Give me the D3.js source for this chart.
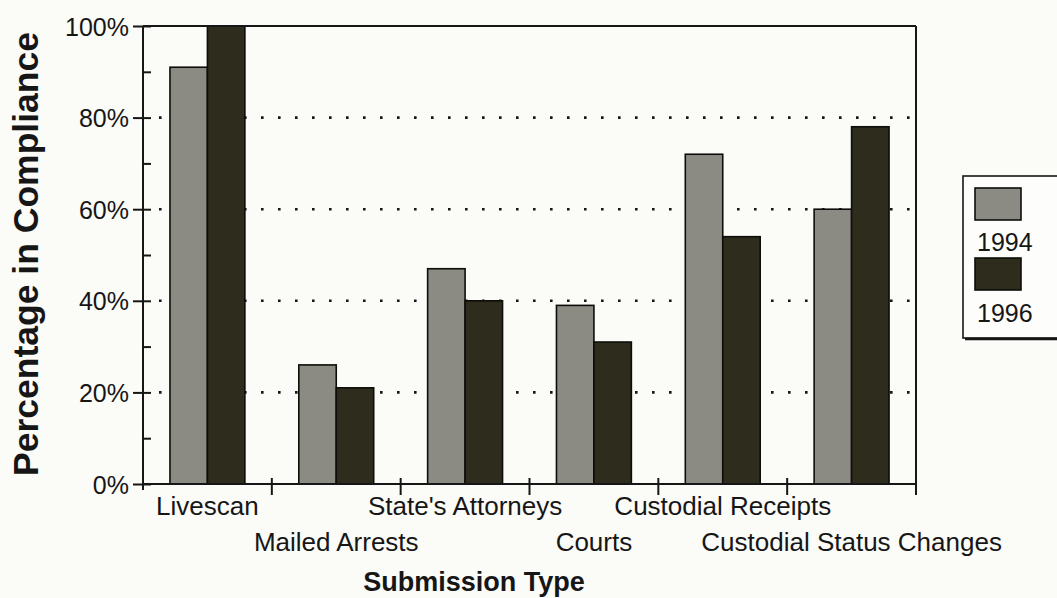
<!DOCTYPE html>
<html>
<head>
<meta charset="utf-8">
<script src="https://cdn.jsdelivr.net/npm/d3@7"></script>
<style>
  html, body { margin: 0; padding: 0; background: #fbfbf8; }
  svg { display: block; font-family: Arial, "Liberation Sans", sans-serif; }
</style>
</head>
<body>
<svg id="chart" width="1057" height="598"></svg>
<script>
// compliance by submission type, 1994 vs 1996
const CATEGORIES = ["Livescan", "Mailed Arrests", "State's Attorneys", "Courts",
                    "Custodial Receipts", "Custodial Status Changes"];
const YEARS = ["1994", "1996"];
const V1994 = [91, 26, 47, 39, 72, 60];
const V1996 = [100, 21, 40, 31, 54, 78];
const Y_MAJOR = [0, 20, 40, 60, 80, 100];
const Y_MINOR = [10, 30, 50, 70, 90];

const COLOR = {"1994": "#8b8a83", "1996": "#2e2c1d"};
const INK = "#161616";

const svg = d3.select("#chart");
const L = 143, R = 916, T = 26, B = 484;

const x = d3.scaleBand().domain(CATEGORIES).range([L, R]);
const xi = d3.scaleBand().domain(YEARS).range([0, x.bandwidth()]).paddingOuter(0.72);
const y = d3.scaleLinear().domain([0, 100]).range([B, T]);

const rows = CATEGORIES.map((c, i) => ({cat: c, "1994": V1994[i], "1996": V1996[i]}));

function label(g, txt, tx, ty, size, anchor, weight) {
  return g.append("text")
    .attr("x", tx).attr("y", ty)
    .attr("text-anchor", anchor).attr("font-size", size)
    .attr("font-weight", weight || "normal").attr("fill", INK).text(txt);
}

// dotted gridlines (under the bars)
svg.append("g").selectAll("line")
  .data(Y_MAJOR.filter(d => d > 0 && d < 100))
  .join("line")
  .attr("x1", L + 16).attr("x2", R)
  .attr("y1", d => y(d)).attr("y2", d => y(d))
  .attr("stroke", INK).attr("stroke-width", 2.6)
  .attr("stroke-dasharray", "2.6,14.4");

// bars
svg.append("g").selectAll("g")
  .data(rows).join("g")
  .attr("transform", d => `translate(${x(d.cat)},0)`)
  .selectAll("rect")
  .data(d => YEARS.map(k => ({k, v: d[k]})))
  .join("rect")
  .attr("x", d => xi(d.k)).attr("width", xi.bandwidth())
  .attr("y", d => y(d.v)).attr("height", d => y(0) - y(d.v))
  .attr("fill", d => COLOR[d.k]).attr("stroke", "#0d0d0a").attr("stroke-width", 1.6);

// frame: top and right
svg.append("line").attr("x1", L).attr("x2", R).attr("y1", T).attr("y2", T)
  .attr("stroke", INK).attr("stroke-width", 2);
svg.append("line").attr("x1", R).attr("x2", R).attr("y1", T).attr("y2", B + 11)
  .attr("stroke", INK).attr("stroke-width", 2);

// y axis
const ya = svg.append("g").attr("transform", `translate(${L},0)`)
  .call(d3.axisLeft(y).tickValues(Y_MAJOR).tickSize(10).tickSizeOuter(0)
    .tickFormat(d => d + "%"));
ya.select(".domain").attr("d", `M0,${T}V${B + 6}`).attr("stroke", INK).attr("stroke-width", 2);
ya.selectAll(".tick line").attr("x2", -10).attr("x1", 8).attr("stroke", INK).attr("stroke-width", 2);
ya.selectAll(".tick text").remove();
ya.selectAll(".tick").each(function (d) {
  label(d3.select(this), d + "%", -14, 9, 25, "end");
});
svg.append("g").attr("transform", `translate(${L},0)`)
  .call(d3.axisLeft(y).tickValues(Y_MINOR).tickSize(0).tickFormat(""))
  .call(g => g.select(".domain").remove())
  .selectAll(".tick line").attr("x1", -1).attr("x2", 8)
  .attr("stroke", INK).attr("stroke-width", 2);

// x axis: baseline, boundary ticks, staggered labels
svg.append("line").attr("x1", L).attr("x2", R).attr("y1", B).attr("y2", B)
  .attr("stroke", INK).attr("stroke-width", 2);
svg.append("g").selectAll("line")
  .data(CATEGORIES.slice(1)).join("line")
  .attr("x1", d => x(d)).attr("x2", d => x(d))
  .attr("y1", B - 6).attr("y2", B + 11)
  .attr("stroke", INK).attr("stroke-width", 2);
const xl = svg.append("g");
CATEGORIES.forEach((c, i) => {
  label(xl, c, x(c) + x.bandwidth() / 2, i % 2 ? 551 : 515, 26, "middle");
});

// axis titles
label(svg, "Submission Type", 474, 591, 27, "middle", "bold");
svg.append("text")
  .attr("transform", `translate(38,254) rotate(-90)`)
  .attr("text-anchor", "middle").attr("font-size", 35.5).attr("font-weight", "bold")
  .attr("fill", INK).text("Percentage in Compliance");

// legend
const lg = svg.append("g").attr("transform", "translate(963,176)");
lg.append("rect").attr("x", 0).attr("y", 0).attr("width", 110).attr("height", 162)
  .attr("fill", "#fdfdfb").attr("stroke", INK).attr("stroke-width", 1.6);
lg.append("line").attr("x1", 2).attr("x2", 110).attr("y1", 163).attr("y2", 163)
  .attr("stroke", INK).attr("stroke-width", 2.5);
YEARS.forEach((k, i) => {
  lg.append("rect").attr("x", 12).attr("y", 12 + i * 70).attr("width", 46).attr("height", 32)
    .attr("fill", COLOR[k]).attr("stroke", "#0d0d0a").attr("stroke-width", 1.6);
  label(lg, k, 14, 75 + i * 71, 25, "start");
});
</script>
</body>
</html>
